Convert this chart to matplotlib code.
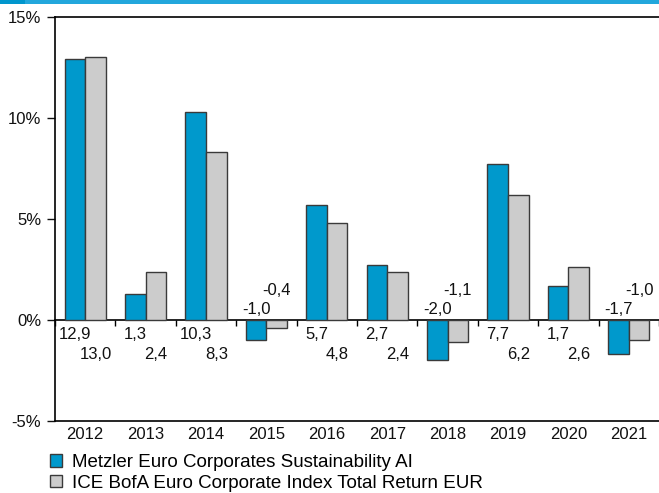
import matplotlib
matplotlib.use("Agg")
import matplotlib.pyplot as plt
from matplotlib.patches import Rectangle, Patch
import numpy as np

years = ["2012", "2013", "2014", "2015", "2016", "2017", "2018", "2019", "2020", "2021"]
fund = [12.9, 1.3, 10.3, -1.0, 5.7, 2.7, -2.0, 7.7, 1.7, -1.7]
index = [13.0, 2.4, 8.3, -0.4, 4.8, 2.4, -1.1, 6.2, 2.6, -1.0]
fund_name = "Metzler Euro Corporates Sustainability AI"
index_name = "ICE BofA Euro Corporate Index Total Return EUR"
yticks = [-5, 0, 5, 10, 15]
ytick_labels = ["-5%", "0%", "5%", "10%", "15%"]

plt.rcParams['font.family'] = ['Liberation Sans', 'DejaVu Sans']
BLUE = "#0099cc"
GRAY = "#cccccc"
EDGE = "#3a3a3a"
TXT = "#111111"
FS = 12

fig = plt.figure(figsize=(6.59, 4.93), dpi=100)
ax = fig.add_axes([55/659, 1-421/493, 1-55/659, (421-17)/493])

x = np.arange(len(years))
w = 0.34
ax.bar(x - w/2, fund, w, color=BLUE, edgecolor=EDGE, linewidth=1.0, zorder=3)
ax.bar(x + w/2, index, w, color=GRAY, edgecolor=EDGE, linewidth=1.0, zorder=3)

ax.set_xlim(-0.5, len(years) - 0.5)
ax.set_ylim(-5, 15)

# value labels
for i, (f, g) in enumerate(zip(fund, index)):
    lab_f = f"{f:.1f}".replace(".", ",")
    lab_g = f"{g:.1f}".replace(".", ",")
    if f >= 0:
        ax.text(i - w/2, -0.74, lab_f, ha="center", va="center", fontsize=FS, color=TXT)
        ax.text(i + w/2, -1.73, lab_g, ha="center", va="center", fontsize=FS, color=TXT)
    else:
        ax.text(i - w/2, 0.5, lab_f, ha="center", va="center", fontsize=FS, color=TXT)
        ax.text(i + w/2, 1.48, lab_g, ha="center", va="center", fontsize=FS, color=TXT)

# spines
ax.spines["right"].set_visible(False)
ax.spines["top"].set_linewidth(1.2)
ax.spines["left"].set_linewidth(1.2)
ax.spines["bottom"].set_position(("data", 0))
ax.spines["bottom"].set_linewidth(1.2)

# y ticks
ax.set_yticks(yticks)
ax.set_yticklabels(ytick_labels)
ax.tick_params(axis="y", direction="out", length=6, width=1, pad=4, labelsize=FS, colors=TXT)

# x ticks on zero line at category boundaries
ax.set_xticks(np.arange(len(years) + 1) - 0.5)
ax.set_xticklabels([])
ax.tick_params(axis="x", direction="out", length=4, width=1)

sec = ax.secondary_xaxis("bottom")
sec.set_xticks(x)
sec.set_xticklabels(years)
sec.tick_params(axis="x", length=0, pad=4, labelsize=FS, colors=TXT)
sec.spines["bottom"].set_linewidth(1.2)

# legend
handles = [Patch(facecolor=BLUE, edgecolor=EDGE, linewidth=1.0, label=fund_name),
           Patch(facecolor=GRAY, edgecolor=EDGE, linewidth=1.0, label=index_name)]
fig.legend(handles=handles, loc="upper left", bbox_to_anchor=(50/659, 1-454/493),
           frameon=False, fontsize=13.5, handlelength=0.65, handleheight=0.65,
           handletextpad=0.53, labelspacing=0.2, borderaxespad=0, borderpad=0)

# top stripe
fig.patches.append(Rectangle((0, 1-4/493), 1, 4/493, transform=fig.transFigure,
                             facecolor="#22a7dc", edgecolor="none"))
fig.patches.append(Rectangle((0, 1-4/493), 25/659, 4/493, transform=fig.transFigure,
                             facecolor="#0096cd", edgecolor="none"))

fig.savefig("out.png", dpi=100)
